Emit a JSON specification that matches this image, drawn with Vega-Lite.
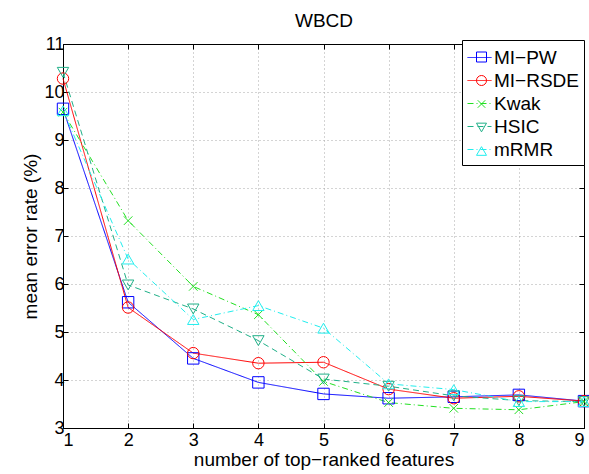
{
  "$schema": "https://vega.github.io/schema/vega-lite/v6.json",
  "width": 521,
  "height": 384,
  "autosize": {"type": "none"},
  "padding": {"left": 63, "top": 44, "right": 5, "bottom": 46},
  "background": "white",
  "config": {
    "view": {"stroke": "black", "strokeWidth": 1},
    "axis": {"labelFont": "Liberation Sans", "titleFont": "Liberation Sans", "labelFontSize": 18, "titleFontSize": 19, "titleFontWeight": "normal", "labelColor": "black", "titleColor": "black", "domainColor": "black", "tickColor": "black", "gridColor": "#a8a8a8", "gridDash": [1, 3], "gridOpacity": 1, "tickSize": -5, "domain": true}
  },
  "data": {"values": [
    {"method": "MI\u2212PW", "k": 1, "err": 9.65},
    {"method": "MI\u2212PW", "k": 2, "err": 5.62},
    {"method": "MI\u2212PW", "k": 3, "err": 4.45},
    {"method": "MI\u2212PW", "k": 4, "err": 3.95},
    {"method": "MI\u2212PW", "k": 5, "err": 3.71},
    {"method": "MI\u2212PW", "k": 6, "err": 3.62},
    {"method": "MI\u2212PW", "k": 7, "err": 3.65},
    {"method": "MI\u2212PW", "k": 8, "err": 3.69},
    {"method": "MI\u2212PW", "k": 9, "err": 3.56},
    {"method": "MI\u2212RSDE", "k": 1, "err": 10.28},
    {"method": "MI\u2212RSDE", "k": 2, "err": 5.51},
    {"method": "MI\u2212RSDE", "k": 3, "err": 4.56},
    {"method": "MI\u2212RSDE", "k": 4, "err": 4.35},
    {"method": "MI\u2212RSDE", "k": 5, "err": 4.37},
    {"method": "MI\u2212RSDE", "k": 6, "err": 3.81},
    {"method": "MI\u2212RSDE", "k": 7, "err": 3.62},
    {"method": "MI\u2212RSDE", "k": 8, "err": 3.66},
    {"method": "MI\u2212RSDE", "k": 9, "err": 3.56},
    {"method": "Kwak", "k": 1, "err": 9.58},
    {"method": "Kwak", "k": 2, "err": 7.32},
    {"method": "Kwak", "k": 3, "err": 5.95},
    {"method": "Kwak", "k": 4, "err": 5.36},
    {"method": "Kwak", "k": 5, "err": 3.97},
    {"method": "Kwak", "k": 6, "err": 3.53},
    {"method": "Kwak", "k": 7, "err": 3.41},
    {"method": "Kwak", "k": 8, "err": 3.38},
    {"method": "Kwak", "k": 9, "err": 3.55},
    {"method": "HSIC", "k": 1, "err": 10.41},
    {"method": "HSIC", "k": 2, "err": 5.98},
    {"method": "HSIC", "k": 3, "err": 5.48},
    {"method": "HSIC", "k": 4, "err": 4.82},
    {"method": "HSIC", "k": 5, "err": 4.02},
    {"method": "HSIC", "k": 6, "err": 3.87},
    {"method": "HSIC", "k": 7, "err": 3.67},
    {"method": "HSIC", "k": 8, "err": 3.57},
    {"method": "HSIC", "k": 9, "err": 3.55},
    {"method": "mRMR", "k": 1, "err": 9.61},
    {"method": "mRMR", "k": 2, "err": 6.52},
    {"method": "mRMR", "k": 3, "err": 5.26},
    {"method": "mRMR", "k": 4, "err": 5.55},
    {"method": "mRMR", "k": 5, "err": 5.08},
    {"method": "mRMR", "k": 6, "err": 3.92},
    {"method": "mRMR", "k": 7, "err": 3.8},
    {"method": "mRMR", "k": 8, "err": 3.55},
    {"method": "mRMR", "k": 9, "err": 3.55}
  ]},
  "layer": [
    {
      "mark": {"type": "line", "strokeWidth": 1},
      "encoding": {
        "x": {"field": "k", "type": "quantitative", "scale": {"domain": [1, 9], "nice": false}, "axis": {"values": [1,2,3,4,5,6,7,8,9], "title": "number of top\u2212ranked features", "labelPadding": 8, "titlePadding": 1, "grid": true}},
        "y": {"field": "err", "type": "quantitative", "scale": {"domain": [3, 11], "nice": false, "zero": false}, "axis": {"values": [3,4,5,6,7,8,9,10,11], "title": "mean error rate (%)", "labelPadding": 4, "titlePadding": 3, "grid": true}},
        "color": {"field": "method", "type": "nominal", "scale": {"domain": ["MI\u2212PW", "MI\u2212RSDE", "Kwak", "HSIC", "mRMR"], "range": ["#0000ff", "#ff0000", "#22e022", "#20b088", "#22eeee"]}, "legend": {"title": null, "orient": "none", "legendX": 399, "legendY": -4, "strokeColor": "black", "fillColor": "white", "padding": 5, "labelFont": "Liberation Sans", "labelFontSize": 19, "labelColor": "black", "rowPadding": 0, "labelOffset": 2, "symbolType": "stroke", "symbolSize": 576, "symbolStrokeWidth": 1, "cornerRadius": 0}},
        "strokeDash": {"field": "method", "type": "nominal", "scale": {"domain": ["MI\u2212PW", "MI\u2212RSDE", "Kwak", "HSIC", "mRMR"], "range": [[1, 0], [1, 0], [6, 3, 1, 3], [6, 4], [6, 3, 1, 3]]}, "legend": {"title": null, "orient": "none", "legendX": 399, "legendY": -4, "strokeColor": "black", "fillColor": "white", "padding": 5, "labelFont": "Liberation Sans", "labelFontSize": 19, "labelColor": "black", "rowPadding": 0, "labelOffset": 2, "symbolType": "stroke", "symbolSize": 576, "symbolStrokeWidth": 1, "cornerRadius": 0}}
      }
    },
    {
      "mark": {"type": "point", "filled": false, "size": 130, "strokeWidth": 1, "opacity": 1},
      "encoding": {
        "x": {"field": "k", "type": "quantitative", "axis": null},
        "y": {"field": "err", "type": "quantitative", "axis": null},
        "color": {"field": "method", "type": "nominal", "legend": {"title": null, "orient": "none", "legendX": 404.5, "legendY": -1, "padding": 5, "labelFont": "Liberation Sans", "labelFontSize": 18, "labelExpr": "''", "rowPadding": 5.5, "labelOffset": 2, "symbolStrokeWidth": 1}},
        "shape": {"field": "method", "type": "nominal", "scale": {"domain": ["MI\u2212PW", "MI\u2212RSDE", "Kwak", "HSIC", "mRMR"], "range": ["square", "circle", "M-0.75,-0.75L0.75,0.75M0.75,-0.75L-0.75,0.75", "triangle-down", "triangle-up"]}, "legend": {"title": null, "orient": "none", "legendX": 404.5, "legendY": -1, "padding": 5, "labelFont": "Liberation Sans", "labelFontSize": 18, "labelExpr": "''", "rowPadding": 5.5, "labelOffset": 2, "symbolStrokeWidth": 1}}
      }
    },
    {
      "mark": {"type": "point", "opacity": 0},
      "encoding": {
        "x": {"field": "k", "type": "quantitative", "axis": {"orient": "top", "values": [1,2,3,4,5,6,7,8,9], "labels": false, "grid": false, "title": "WBCD", "titleFontSize": 19, "titlePadding": 13}},
        "y": {"field": "err", "type": "quantitative", "axis": {"orient": "right", "values": [3,4,5,6,7,8,9,10,11], "labels": false, "grid": false, "title": null}}
      }
    }
  ],
  "resolve": {"axis": {"x": "independent", "y": "independent"}, "legend": {"color": "independent", "shape": "independent", "strokeDash": "independent"}}
}
